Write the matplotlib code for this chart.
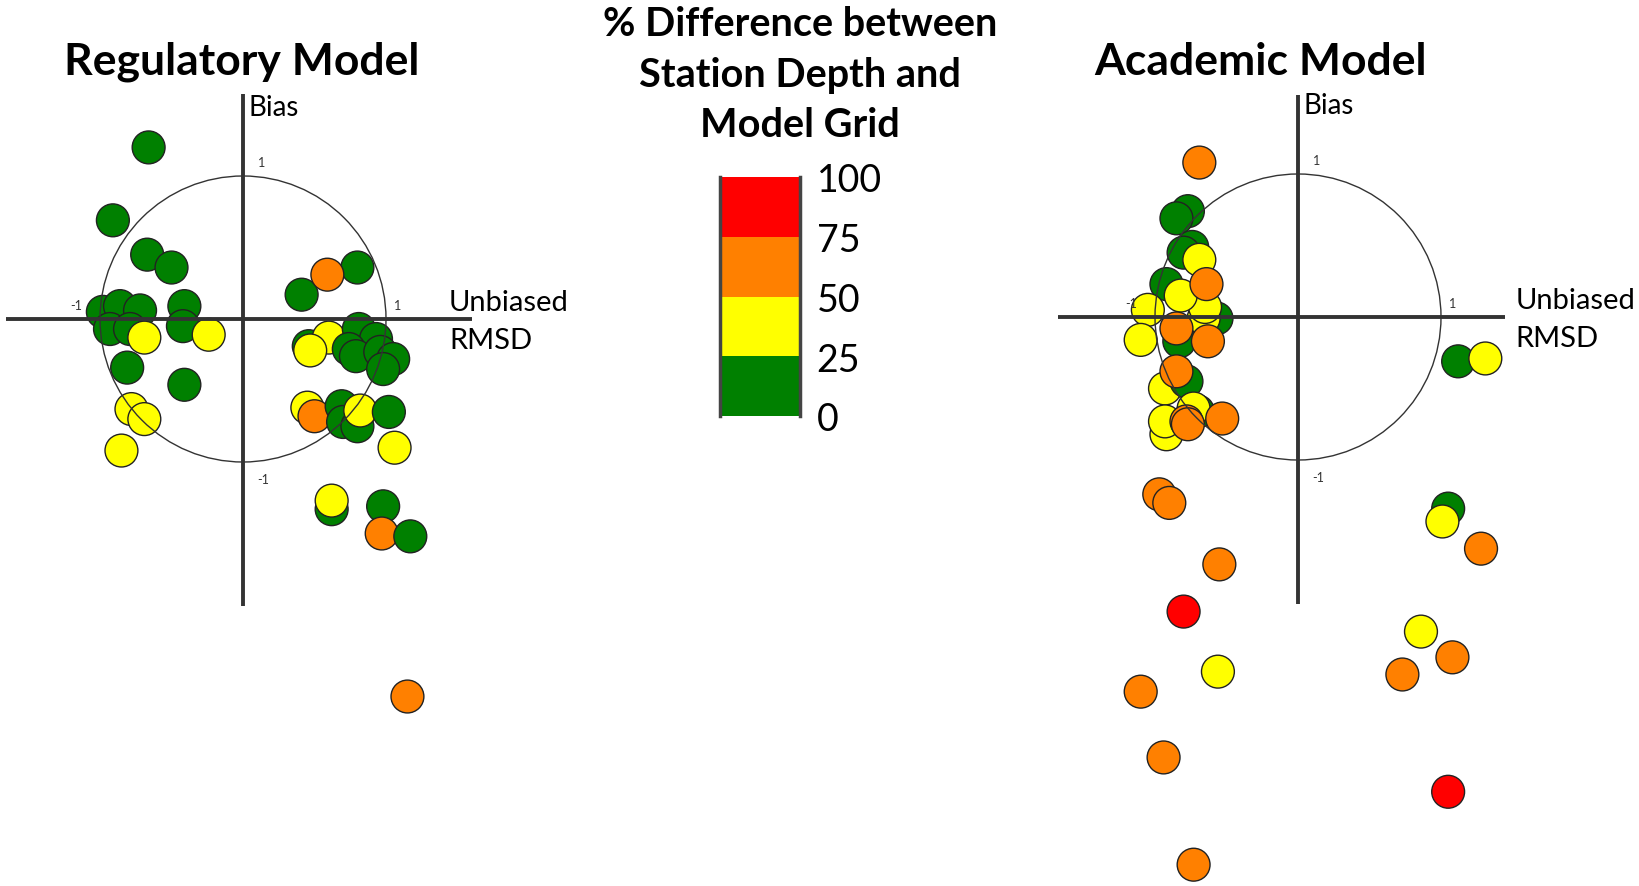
import matplotlib
matplotlib.use("Agg")
import matplotlib.pyplot as plt
from matplotlib.patches import Circle

plt.rcParams['font.family'] = ['Lato', 'DejaVu Sans']

# target diagram points, normalised units (circle radius = 1)
# bins: 0 = 0-25 %, 1 = 25-50 %, 2 = 50-75 %, 3 = 75-100 %
reg_x = [-0.66, -0.91, -0.67, -0.50, -0.98, -0.86, -0.72, -0.93, -0.79, -0.41, -0.42,
         -0.69, -0.24, -0.81, -0.41, -0.78, -0.69, -0.85,
         0.41, 0.80, 0.59, 0.46, 0.60, 0.47, 0.81, 0.93, 0.74, 0.79, 0.96, 1.05, 0.98,
         0.45, 0.50, 0.69, 0.70, 0.80, 0.82, 1.02, 1.06,
         0.62, 0.62, 0.98, 0.97, 1.17, 1.15]
reg_y = [1.20, 0.69, 0.45, 0.36, 0.05, 0.09, 0.06, -0.07, -0.07, 0.09, -0.05,
         -0.13, -0.11, -0.34, -0.46, -0.63, -0.70, -0.92,
         0.17, 0.36, 0.31, -0.19, -0.13, -0.22, -0.07, -0.14, -0.21, -0.26, -0.23, -0.28, -0.35,
         -0.62, -0.68, -0.61, -0.72, -0.75, -0.64, -0.65, -0.90,
         -1.33, -1.27, -1.31, -1.50, -1.52, -2.64]
reg_bin = [0, 0, 0, 0, 0, 0, 0, 0, 0, 0, 0,
           1, 1, 0, 0, 1, 1, 1,
           0, 0, 2, 0, 1, 1, 0, 0, 0, 0, 0, 0, 0,
           1, 2, 0, 0, 0, 1, 0, 1,
           0, 1, 0, 2, 0, 2]

aca_x = [-0.69, -0.77, -0.85, -0.74, -0.80, -0.69, -0.92, -0.57, -0.83, -0.66, -0.65,
         -0.82, -0.64, -1.05, -1.10, -0.85, -0.63,
         -0.93, -0.78, -0.85, -0.70, -0.73, -0.92, -0.93, -0.78, -0.77, -0.53,
         -0.97, -0.90, -0.55, -0.80, -0.56, -1.10, -0.94, -0.73,
         1.12, 1.31, 1.05, 1.01, 1.28, 0.86, 1.08, 0.73, 1.05]
aca_y = [1.08, 0.74, 0.69, 0.49, 0.45, 0.40, 0.23, -0.01, -0.17, -0.01, 0.07,
         0.15, 0.23, 0.05, -0.16, -0.08, -0.17,
         -0.50, -0.45, -0.38, -0.66, -0.64, -0.82, -0.73, -0.73, -0.75, -0.71,
         -1.24, -1.30, -1.73, -2.06, -2.48, -2.62, -3.08, -3.83,
         -0.31, -0.29, -1.34, -1.43, -1.62, -2.20, -2.38, -2.50, -3.32]
aca_bin = [2, 0, 0, 0, 0, 1, 0, 0, 0, 1, 1,
           1, 2, 1, 1, 2, 2,
           1, 0, 2, 0, 1, 1, 1, 2, 2, 2,
           2, 2, 2, 3, 1, 2, 2, 2,
           0, 1, 0, 1, 2, 1, 2, 2, 3]

bin_edges = [0, 25, 50, 75, 100]
bin_colors = ['#008000', '#FFFF00', '#FF8000', '#FF0000']

W, H = 1639, 887
U = 143.0  # pixels per unit

fig = plt.figure(figsize=(W / 100, H / 100), dpi=100)


def panel(cx, cy, x0, x1, xs, ys, bins, hline, vline, title, tx, lab_x):
    ax = fig.add_axes([x0 / W, 0, (x1 - x0) / W, 1])
    ax.set_xlim((x0 - cx) / U, (x1 - cx) / U)
    ax.set_ylim((cy - H) / U, cy / U)
    ax.axis('off')
    cols = [bin_colors[b] for b in bins]
    ax.scatter(xs, ys, s=560, c=cols, edgecolors='#222222', linewidths=1.0,
               zorder=2, clip_on=False)
    ax.add_patch(Circle((0, 0), 1, fill=False, ec='#333333', lw=1.0, zorder=3))
    ax.plot(hline, [0, 0], color='#333333', lw=2.8, zorder=4, solid_capstyle='butt')
    ax.plot([0, 0], vline, color='#333333', lw=2.8, zorder=4, solid_capstyle='butt')
    ax.text(0.04, 1.485, 'Bias', fontsize=20, ha='left', va='center')
    ax.text(lab_x, 0.12, 'Unbiased', fontsize=21, ha='left', va='center')
    ax.text(lab_x, -0.15, 'RMSD', fontsize=21, ha='left', va='center')
    ax.text(0.13, 1.10, '1', fontsize=9, ha='center', va='center', color='#333333')
    ax.text(1.08, 0.10, '1', fontsize=9, ha='center', va='center', color='#333333')
    ax.text(-1.17, 0.10, '-1', fontsize=9, ha='center', va='center', color='#333333')
    ax.text(0.14, -1.12, '-1', fontsize=9, ha='center', va='center', color='#333333')
    ax.text((tx - cx) / U, (cy - 62) / U, title, fontsize=32, fontweight='bold',
            ha='center', va='center')
    return ax


panel(243, 320, 0, 600, reg_x, reg_y, reg_bin, [-1.66, 1.60], [1.57, -2.01],
      'Regulatory Model', 242, 1.44)
panel(1298, 318, 1000, 1639, aca_x, aca_y, aca_bin, [-1.68, 1.45], [1.55, -2.01],
      'Academic Model', 1260, 1.52)

# colour key
fig.text(800 / W, 1 - 75 / H, '% Difference between\nStation Depth and\nModel Grid',
         fontsize=28.5, fontweight='bold', ha='center', va='center', linespacing=1.45)
cax = fig.add_axes([720 / W, 1 - 417 / H, 80 / W, (417 - 178) / H])
cax.bar(0, [25] * 4, bottom=bin_edges[:-1], color=bin_colors, width=1.0)
cax.set_xlim(-0.5, 0.5)
cax.set_ylim(0, 100)
cax.set_xticks([])
cax.yaxis.tick_right()
cax.set_yticks(bin_edges)
cax.set_yticklabels([str(v) for v in bin_edges])
cax.tick_params(axis='y', length=0, labelsize=27, pad=12)
for side in ['top', 'bottom']:
    cax.spines[side].set_visible(False)
for side in ['left', 'right']:
    cax.spines[side].set_color('#444444')
    cax.spines[side].set_linewidth(2.5)

fig.savefig('out.png', dpi=100)
